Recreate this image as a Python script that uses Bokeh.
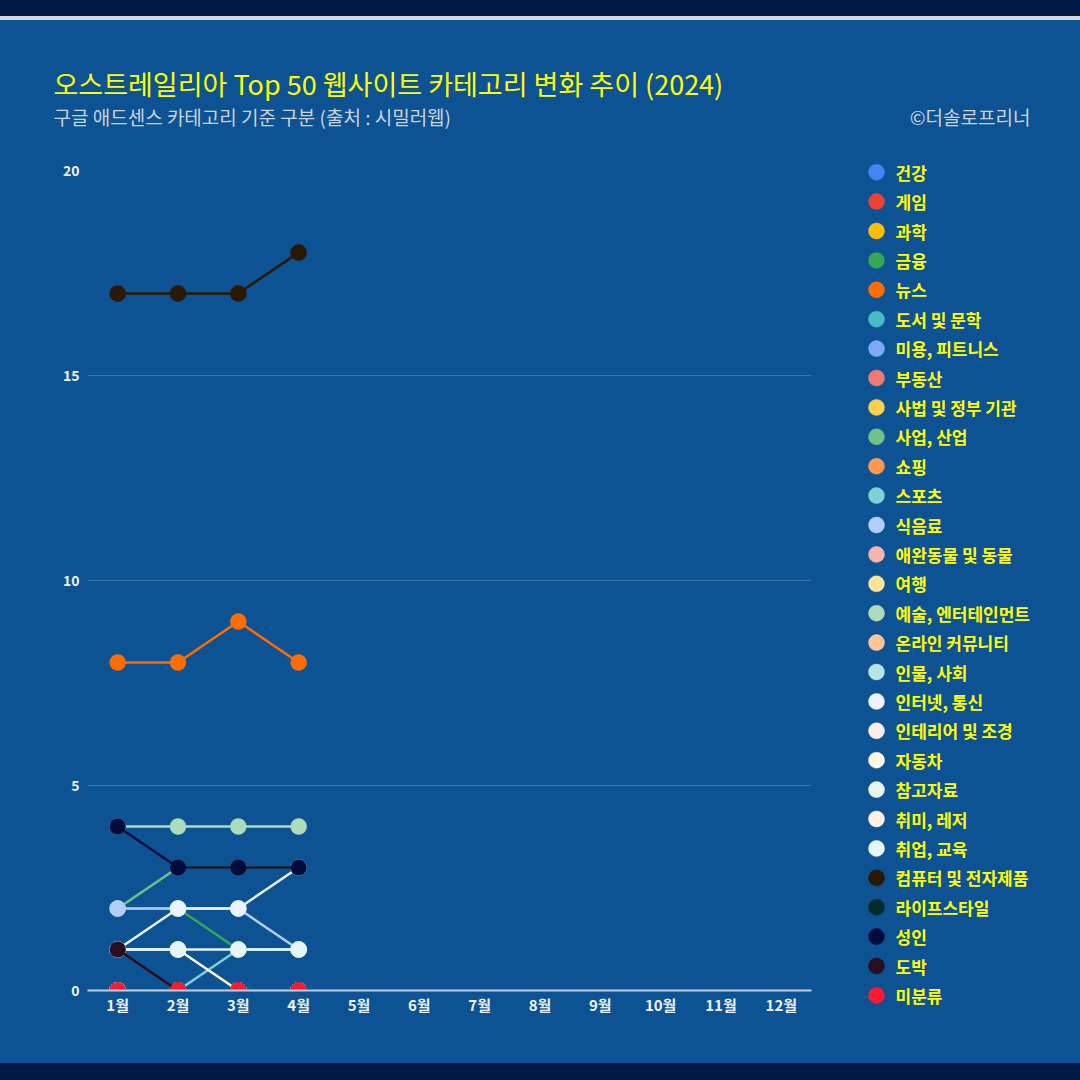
from bokeh.plotting import figure
from bokeh.models import FactorRange, Range1d, FixedTicker, Label, Spacer
from bokeh.layouts import column, row
from bokeh.embed import file_html
from bokeh.resources import INLINE
from bokeh.core.properties import value

# ---------------- data ----------------
months = ["1월", "2월", "3월", "4월", "5월", "6월", "7월", "8월", "9월", "10월", "11월", "12월"]
data_months = ["1월", "2월", "3월", "4월"]

categories = ["건강", "게임", "과학", "금융", "뉴스", "도서 및 문학", "미용, 피트니스", "부동산",
              "사법 및 정부 기관", "사업, 산업", "쇼핑", "스포츠", "식음료", "애완동물 및 동물", "여행",
              "예술, 엔터테인먼트", "온라인 커뮤니티", "인물, 사회", "인터넷, 통신", "인테리어 및 조경",
              "자동차", "참고자료", "취미, 레저", "취업, 교육", "컴퓨터 및 전자제품", "라이프스타일",
              "성인", "도박", "미분류"]

colors = ["#4285f4", "#ea4335", "#fbbc04", "#34a853", "#ff6d01", "#46bdc6", "#7baaf7", "#f07b72",
          "#fcd04f", "#71c287", "#ff994d", "#7ed1d7", "#b3cefb", "#f7b4ae", "#fde49b",
          "#aedcba", "#ffc599", "#b5e5e8", "#ecf3fe", "#fdeceb",
          "#fff8e6", "#e7f5eb", "#fff0e6", "#e6f6f7", "#2b1800", "#002b2b",
          "#000c3c", "#2a0d1f", "#ff1a33"]

v_health = [0, 0, 0, 0]
v_game = [0, 0, 0, 0]
v_science = [0, 0, 0, 0]
v_finance = [2, 2, 1, 1]
v_news = [8, 8, 9, 8]
v_books = [0, 0, 0, 0]
v_beauty = [0, 0, 0, 0]
v_realestate = [0, 0, 0, 0]
v_law = [0, 0, 0, 0]
v_business = [2, 3, 3, 3]
v_shopping = [0, 0, 0, 0]
v_sports = [0, 0, 1, 1]
v_food = [2, 2, 2, 1]
v_pets = [0, 0, 0, 0]
v_travel = [0, 0, 0, 0]
v_arts = [4, 4, 4, 4]
v_community = [0, 0, 0, 0]
v_people = [0, 0, 0, 0]
v_internet = [1, 2, 2, 3]
v_interior = [0, 0, 0, 0]
v_autos = [1, 1, 0, 0]
v_reference = [0, 0, 0, 0]
v_hobbies = [0, 0, 0, 0]
v_jobs = [1, 1, 1, 1]
v_computers = [17, 17, 17, 18]
v_lifestyle = [0, 0, 0, 0]
v_adult = [4, 3, 3, 3]
v_gambling = [1, 0, 0, 0]
v_unknown = [0, 0, 0, 0]

series = [v_health, v_game, v_science, v_finance, v_news, v_books, v_beauty, v_realestate,
          v_law, v_business, v_shopping, v_sports, v_food, v_pets, v_travel,
          v_arts, v_community, v_people, v_internet, v_interior,
          v_autos, v_reference, v_hobbies, v_jobs, v_computers, v_lifestyle,
          v_adult, v_gambling, v_unknown]

y_ticks = [0, 5, 10, 15, 20]

title_text = "오스트레일리아 Top 50 웹사이트 카테고리 변화 추이 (2024)"
subtitle_text = "구글 애드센스 카테고리 기준 구분 (출처 : 시밀러웹)"
credit_text = "©더솔로프리너"

# ---------------- style ----------------
FONT = "Noto Sans CJK KR"
BG = "#0d5393"
DARK = "#001a45"
GRAYLINE = "#d3d6db"
YELLOW = "#ffff00"
SUBC = "#c9d3de"
TICKC = "#eef2f7"


def plain(fig):
    fig.styles = {"background-color": BG}
    fig.xgrid.grid_line_color = None
    fig.ygrid.grid_line_color = None


# ---------------- header ----------------
h = figure(width=1080, height=140, x_range=Range1d(0, 1080), y_range=Range1d(140, 0),
           x_axis_location=None, y_axis_location=None,
           output_backend="svg", toolbar_location=None,
           min_border=0, min_border_left=0, min_border_right=0, min_border_top=0, min_border_bottom=0,
           background_fill_color=BG, border_fill_color=BG, outline_line_color=None)
plain(h)
h.add_layout(Label(x=53, y=63, text=title_text, text_font=FONT, text_font_size="27px",
                   text_color=YELLOW, text_baseline="middle", text_align="left"))
h.add_layout(Label(x=53, y=96, text=subtitle_text, text_font=FONT, text_font_size="19px",
                   text_color=SUBC, text_baseline="middle", text_align="left"))
h.add_layout(Label(x=1030, y=96, text=credit_text, text_font=FONT, text_font_size="19px",
                   text_color=SUBC, text_baseline="middle", text_align="right"))

# ---------------- main chart ----------------
p = figure(width=860, height=903,
           x_range=FactorRange(factors=months), y_range=Range1d(0, 20),
           output_backend="svg", toolbar_location=None,
           min_border_left=87, min_border_right=49, min_border_top=10, min_border_bottom=73,
           background_fill_color=BG, border_fill_color=BG, outline_line_color=None)
p.styles = {"background-color": BG}

p.xgrid.grid_line_color = None
p.ygrid.grid_line_color = "#ffffff"
p.ygrid.grid_line_alpha = 0.2
p.ygrid.grid_line_width = 1

p.yaxis.ticker = FixedTicker(ticks=y_ticks)
p.yaxis.axis_line_color = None
p.yaxis.major_tick_line_color = None
p.yaxis.major_tick_out = 0
p.yaxis.minor_tick_line_color = None
p.yaxis.major_label_standoff = 8
p.yaxis.major_label_text_font = FONT
p.yaxis.major_label_text_font_size = "14px"
p.yaxis.major_label_text_font_style = "bold"
p.yaxis.major_label_text_color = TICKC

p.xaxis.axis_line_color = "#c0cfe0"
p.xaxis.axis_line_width = 2
p.xaxis.major_tick_line_color = None
p.xaxis.major_tick_out = 0
p.xaxis.minor_tick_line_color = None
p.xaxis.major_label_standoff = 3
p.xaxis.major_label_text_font = FONT
p.xaxis.major_label_text_font_size = "15px"
p.xaxis.major_label_text_font_style = "bold"
p.xaxis.major_label_text_color = TICKC

for vals, c in zip(series, colors):
    p.line(data_months, vals, line_color=c, line_width=2.5)
    p.scatter(data_months, vals, size=16, fill_color=c, line_color=c, line_width=0.5)

# ---------------- legend panel ----------------
idx = list(range(len(categories)))
q = figure(width=220, height=903,
           x_range=Range1d(0, 220), y_range=Range1d(30.316, -0.398),
           x_axis_location=None, y_axis_location=None,
           output_backend="svg", toolbar_location=None,
           min_border=0, min_border_left=0, min_border_right=0, min_border_top=0, min_border_bottom=0,
           background_fill_color=BG, border_fill_color=BG, outline_line_color=None)
plain(q)

q.scatter(x=[16] * len(idx), y=idx, size=16, fill_color=colors, line_color=colors, line_width=0.5)
q.text(x=[35] * len(idx), y=idx, text=categories, text_font=value(FONT), text_font_size="17px",
       text_font_style="bold", text_color=YELLOW, text_baseline="middle", text_align="left")

# ---------------- page ----------------
top_band = Spacer(width=1080, height=16, styles={"background-color": DARK})
gray_line = Spacer(width=1080, height=4, styles={"background-color": GRAYLINE})
layout = column(top_band, gray_line, h, row(p, column(q)), spacing=0)

html = file_html(layout, INLINE, title="오스트레일리아 Top 50 웹사이트 카테고리 변화 추이 (2024)")
html = html.replace("</head>", "<style>html, body { background-color: %s; }</style></head>" % DARK, 1)
open("out.html", "w").write(html)
